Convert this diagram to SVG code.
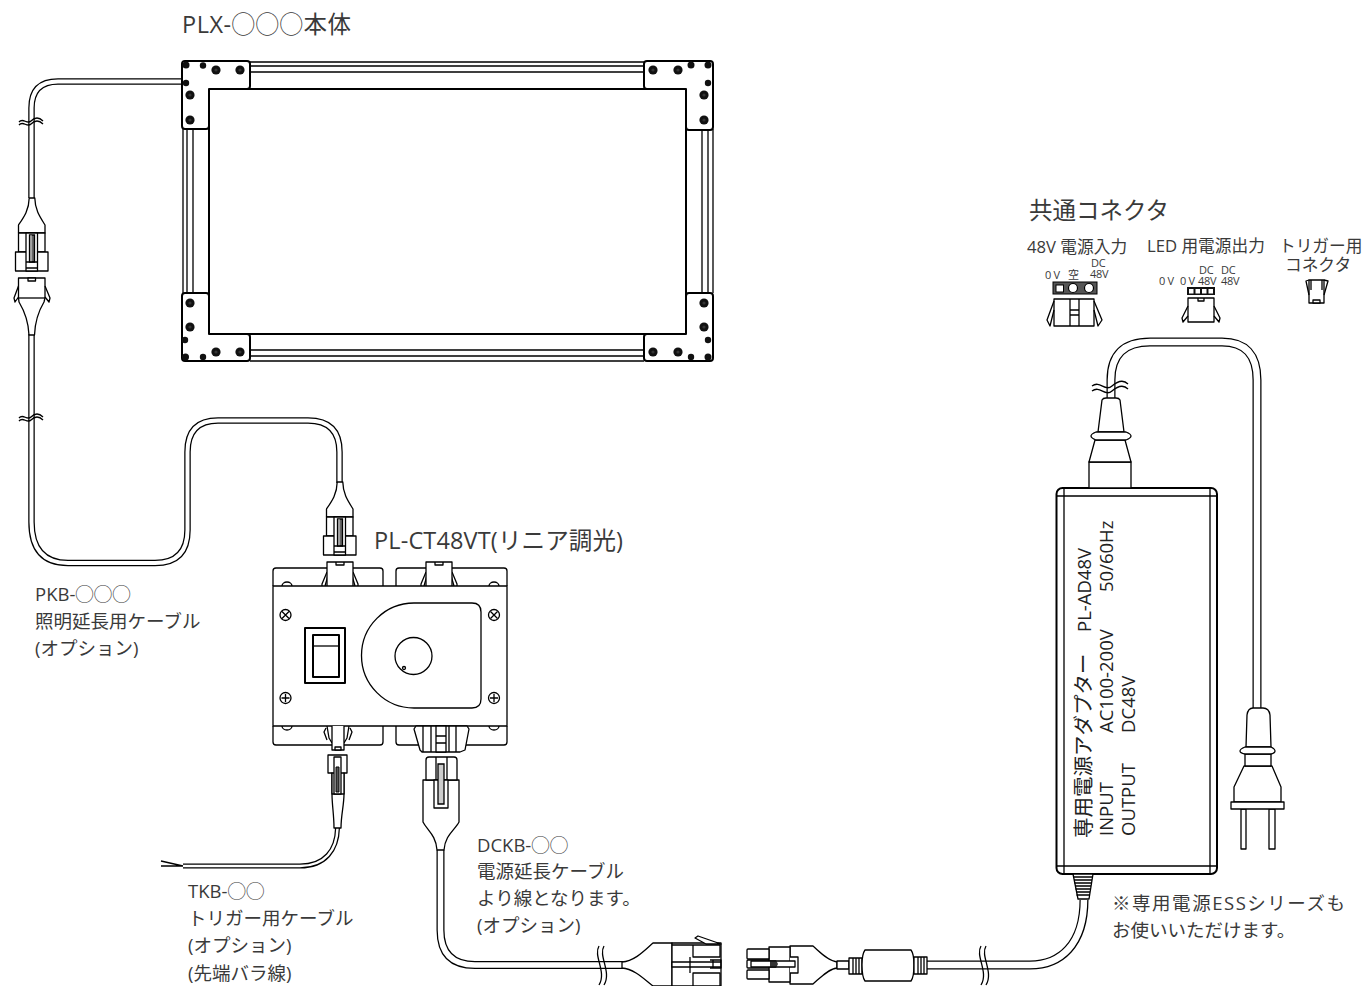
<svg xmlns="http://www.w3.org/2000/svg" xmlns:xlink="http://www.w3.org/1999/xlink" width="1367" height="986" viewBox="0 0 1367 986">
<style>
.l{fill:none;stroke:#000;stroke-width:1.3;stroke-linejoin:round}
.w{fill:#fff;stroke:#000;stroke-width:1.3;stroke-linejoin:round}
.b{fill:#fff;stroke:#000;stroke-width:2;stroke-linejoin:round}
.d{fill:#111;stroke:none}
.t{font-family:"Open Sans","Noto Sans CJK JP",sans-serif;fill:#3a3a3a;font-size:18.500px}
.big{font-size:23.500px}
.mid{font-size:16.700px}
.sm{font-size:11px;letter-spacing:-.3px}
.rot{font-family:"Open Sans","Noto Sans CJK JP",sans-serif;fill:#222;font-size:18.500px}
.rotj{font-size:20.500px}
.co{fill:none;stroke:#000;stroke-linejoin:round}
.ci{fill:none;stroke:#fff;stroke-linejoin:round}
</style>
<defs>
<g id="hole"><circle r="4.600" class="d"/><circle r="1.600" fill="#333"/></g>
<path id="brk" class="l" d="M-12 2C-8 -3 -4 5 0 1S8 -3 12 1M-12 5C-8 0 -4 8 0 4S8 0 12 4"/>
<g id="plug">
<path class="w" d="M-2.800 0H2.800C3 12 8 19 13 27V35H-13.500V27C-8 19 -3 12 -2.800 0Z"/>
<path class="w" d="M-13.500 35H13V54H-13.500Z"/>
<path class="w" d="M-16.500 54H16V73H-16.500Z"/>
<path class="w" d="M-6 35H5.500V73H-6Z"/>
<path d="M-2.500 37H2.500V64H-2.500Z" fill="#666" stroke="#000" stroke-width="1.300"/>
<path d="M-1 37V64" stroke="#fff" stroke-width=".8"/>
<path class="l" d="M-6 64H5.500M-6 70H5.500"/>
</g>
</defs>

<g id="connectors">
<g id="cable-panel-to-connector">
<path class="co" stroke-width="6.500" d="M182 81.500H58Q31.500 81.500 31.500 108V198"/>
<path class="ci" stroke-width="4" d="M183 81.500H58Q31.500 81.500 31.500 108V199"/>
<use xlink:href="#brk" href="#brk" x="31" y="120"/>
</g>
<g id="cable-pkb">
<path class="co" stroke-width="6.500" d="M31.500 334V522Q31.500 563 68 563H155Q187.500 563 187.500 530V452Q187.500 420.500 218 420.500H308Q339.500 420.500 339.500 452V483"/>
<path class="ci" stroke-width="4" d="M31.500 333V522Q31.500 563 68 563H155Q187.500 563 187.500 530V452Q187.500 420.500 218 420.500H308Q339.500 420.500 339.500 452V484"/>
<use xlink:href="#brk" href="#brk" x="31" y="416"/>
</g>
<g id="cable-tkb">
<path class="co" stroke-width="5" d="M337.500 828C337 850 325 866 300 866H183"/>
<path class="ci" stroke-width="2.500" d="M337.500 828C337 850 325 866 300 866H183"/>
<path class="l" d="M183 866L161 861M183 866H161" stroke-width="1.600"/>
</g>
<g id="cable-dckb">
<path class="co" stroke-width="8" d="M440.500 850V930Q440.500 965 475 965H623"/>
<path class="ci" stroke-width="5.500" d="M440.500 849V930Q440.500 965 475 965H624"/>
<path class="l" d="M599 946C593 956 607 972 599 985M604 946C598 956 612 972 604 985"/>
</g>
<g id="cable-adapter-out">
<path class="co" stroke-width="9" d="M927 965H1030C1060 965 1084 945 1084 900"/>
<path class="ci" stroke-width="6.500" d="M926 965H1030C1060 965 1084 945 1084 899"/>
<path class="l" d="M981 946C975 956 989 972 981 985M986 946C980 956 994 972 986 985"/>
</g>
<g id="cable-ac">
<path class="co" stroke-width="9" d="M1111 398V380Q1111 342 1150 342H1222Q1257 342 1257 380V708"/>
<path class="ci" stroke-width="6.500" d="M1111 399V380Q1111 342 1150 342H1222Q1257 342 1257 380V709"/>
<path class="l" d="M1092 386C1100 380 1105 392 1112 386S1124 380 1128 384M1092 391C1100 385 1105 397 1112 391S1124 385 1128 389"/>
</g>
</g>

<g id="panel">
<path class="b" d="M209 89H686V334H209Z"/>
<path class="l" d="M250 62H644M250 66H644M250 72H644M250 350H644M250 356H644M250 361H644M183 129V293M187 129V293M193 129V293M702 129V293M708 129V293M713 129V293"/>
<path class="b" d="M185 61H247Q250 61 250 64V86Q250 89 247 89H209V126Q209 129 206 129H185Q182 129 182 126V64Q182 61 185 61Z"/>
<path class="b" d="M647 61H710Q713 61 713 64V127Q713 130 710 130H689Q686 130 686 127V89H647Q644 89 644 86V64Q644 61 647 61Z"/>
<path class="b" d="M185 293H206Q209 293 209 296V334H247Q250 334 250 337V358Q250 361 247 361H185Q182 361 182 358V296Q182 293 185 293Z"/>
<path class="b" d="M689 293H710Q713 293 713 296V358Q713 361 710 361H647Q644 361 644 358V337Q644 334 647 334H686V296Q686 293 689 293Z"/>
<g class="d">
<circle cx="186" cy="65" r="3.500"/><circle cx="203" cy="65.500" r="3.200"/><circle cx="186" cy="83" r="3.200"/>
<circle cx="691" cy="65" r="3.500"/><circle cx="708" cy="65" r="3.500"/><circle cx="708" cy="83" r="3.200"/>
<circle cx="185" cy="340" r="3.200"/><circle cx="185.500" cy="357" r="3.500"/><circle cx="203" cy="357" r="3.200"/>
<circle cx="691" cy="357" r="3.200"/><circle cx="708" cy="357" r="3.500"/><circle cx="708" cy="340" r="3.200"/>
</g>
<use xlink:href="#hole" href="#hole" x="216" y="70"/><use xlink:href="#hole" href="#hole" x="240" y="70"/><use xlink:href="#hole" href="#hole" x="190" y="95"/><use xlink:href="#hole" href="#hole" x="190" y="120"/>
<use xlink:href="#hole" href="#hole" x="653" y="70"/><use xlink:href="#hole" href="#hole" x="678" y="70"/><use xlink:href="#hole" href="#hole" x="704" y="95"/><use xlink:href="#hole" href="#hole" x="704" y="120"/>
<use xlink:href="#hole" href="#hole" x="190" y="303"/><use xlink:href="#hole" href="#hole" x="190" y="327"/><use xlink:href="#hole" href="#hole" x="216" y="352"/><use xlink:href="#hole" href="#hole" x="240" y="352"/>
<use xlink:href="#hole" href="#hole" x="653" y="352"/><use xlink:href="#hole" href="#hole" x="678" y="352"/><use xlink:href="#hole" href="#hole" x="704" y="303"/><use xlink:href="#hole" href="#hole" x="704" y="327"/>
<text class="t big" x="182" y="33" textLength="169">PLX-◯◯◯本体</text>
</g>

<g id="inline-connector">
<use xlink:href="#plug" href="#plug" x="32" y="198"/>
<path class="w" d="M18.500 278H45V298L44 302C38 312 35 322 34.500 335H29C28.500 322 25 312 19 302L18.500 298Z"/>
<path class="l" d="M18.500 298H45"/>
<path class="w" d="M28 278H35.500V281H28Z"/>
<path class="l" d="M18.500 286L14 298L15 302L18.500 297M45 286L50 298L49 302L45 297"/>
</g>

<g id="controller">
<path class="l" d="M273 586V571Q273 568 276 568H380Q383 568 383 571V586" stroke-width="1.600"/>
<path class="l" d="M396 586V571Q396 568 399 568H504Q507 568 507 571V586" stroke-width="1.600"/>
<path class="l" d="M273 726V742Q273 745 276 745H380Q383 745 383 742V726" stroke-width="1.600"/>
<path class="l" d="M396 726V742Q396 745 399 745H504Q507 745 507 742V726" stroke-width="1.600"/>
<path class="l" d="M282 586A5 4 0 0 1 292 586M489 586A5 4 0 0 1 499 586M282 726A5 4 0 0 0 292 726M489 726A5 4 0 0 0 499 726"/>
<path class="l" d="M327 572L322 584L322 586M353 572L358 584L358 586M426 572L421 584L421 586M452 572L457 584L457 586M329 572L325 586M351 572L355 586M428 572L424 586M450 572L454 586"/>
<path class="w" d="M327 586V562H353V586"/>
<path class="w" d="M426 586V562H452V586"/>
<path class="l" d="M336 562V565H344V562M435 562V565H443V562"/>
<path class="w" d="M273 586H507V726H273Z" stroke-width="1.800"/>
<path class="b" d="M305 628H345V683H305Z" stroke-width="2.500"/>
<path class="b" d="M313 635H339V677H313Z"/>
<path class="l" d="M313 646H339"/>
<path class="l" d="M414 603H472Q481 603 481 612V699Q481 708 472 708H414A52.500 52.500 0 0 1 414 603Z" stroke-width="1.500"/>
<circle class="l" cx="413.500" cy="656" r="18.500" stroke-width="1.500"/>
<circle class="l" cx="404" cy="668" r="1.500"/>
<g class="l">
<circle cx="285.500" cy="615" r="5.500"/><path d="M282 611.500L289 618.500M289 611.500L282 618.500"/>
<circle cx="494" cy="615" r="5.500"/><path d="M490.500 611.500L497.500 618.500M497.500 611.500L490.500 618.500"/>
<circle cx="285.500" cy="698" r="5.500"/><path d="M281.500 698H289.500M285.500 694V702"/>
<circle cx="494" cy="698" r="5.500"/><path d="M490 698H498M494 694V702"/>
</g>
<path class="l" d="M327 726L329 738L332 743M349 726L347 738L344 743M326 728L324 732L327 740M350 728L352 732L349 740"/>
<path class="w" d="M332 726V750H344V726"/>
<path class="w" d="M335 747H341V750H335Z"/>
<path class="w" d="M414 729L420 750L422 752H460L465 750L469 729L467 726H416Z"/>
<path class="l" d="M423 726V752M431 726V752M449 726V752M456 726V752"/>
<path class="w" d="M436 726H446V752H436Z"/>
<path class="l" d="M436 736H446M436 743H446"/>
<use xlink:href="#plug" href="#plug" x="340" y="482"/>
<text class="t big" x="374" y="549" textLength="249">PL-CT48VT(リニア調光)</text>
</g>

<g id="trigger-connector">
<path class="w" d="M328 755H347V773H344V794C344 805 341 815 341 828H334C334 815 332 805 332 794V773H328Z"/>
<path class="w" d="M332 773H344V794H332Z"/>
<path class="w" d="M334 757H341V794H334Z"/>
<path d="M336 767H339V792H336Z" fill="#555" stroke="#000"/>
</g>

<g id="dckb-plug">
<path class="w" d="M423 780V822C427 830 436 835 437 850H444C445 835 455 830 459 822V780Z"/>
<path class="w" d="M426 760Q426 757 429 757H454Q457 757 457 760V780H426Z"/>
<path class="l" d="M436 757V780M447 757V780"/>
<path class="w" d="M434 780H448V808H434Z"/>
<path d="M438 764H444V804H438Z" fill="#ccc" stroke="#000" stroke-width="1.300"/>
</g>

<g id="dckb-end-left">
<path class="w" d="M622 962C635 961 645 950 653 943H672V986H653C645 980 635 969 622 968Z"/>
<path class="w" d="M672 943H721V986H672Z"/>
<path class="w" d="M693 945H720V957H693ZM672 945H693"/>
<path class="w" d="M693 973H720V986H693Z"/>
<path class="w" d="M672 962H690V967H672Z"/>
<path class="l" d="M690 957V962M690 967V973M690 962H721M690 967H721"/>
<path class="l" d="M710 960H713V968H710M713 960H721V968H713"/>
<path class="w" d="M695 938L698 936L721 944H706Z"/>
</g>

<g id="dc-end-right">
<path class="w" d="M790 946H813C820 952 828 961 837 962V968C828 969 820 978 813 984H790Z"/>
<path class="w" d="M769 947H790V982H769Z"/>
<path class="w" d="M748 949H769V959H748Q747 959 747 958V950Q747 949 748 949Z"/>
<path class="w" d="M748 960H769V968H748Q747 968 747 967V961Q747 960 748 960Z"/>
<path class="w" d="M748 970H769V979H748Q747 979 747 978V971Q747 970 748 970Z"/>
<path class="w" d="M790 957H798V973H790"/>
<path class="w" d="M751 961H795V967H751Z"/>
<path class="d" d="M770 960H776L778 964L776 968H770Z" opacity=".85"/>
<path class="w" d="M837 961H849V969H837Z"/>
</g>

<g id="ferrite">
<path class="w" d="M849 958H862V974H849Z"/>
<path class="l" d="M853 958V974M856 958V974M859 958V974"/>
<path class="w" d="M865 950H911Q914 954 914 965Q914 977 911 981H865Q862 977 862 965Q862 954 865 950Z"/>
<path class="w" d="M914 957H927V974H914Z"/>
<path class="l" d="M918 957V974M921 957V974M924 957V974"/>
</g>

<g id="adapter">
<rect class="b" x="1056.500" y="488" width="160.500" height="386" rx="6"/>
<path class="l" d="M1064 488V874M1210 488V874M1056.500 496H1217M1056.500 866H1217" stroke-width="1.500"/>
<path class="w" d="M1073 874H1093L1089 899H1078Z"/>
<path d="M1073.500 877H1092.500M1074 880H1092M1074.500 883H1091.500M1075 886H1091M1075.500 889H1090.500M1076 892H1090M1076.500 895H1089.500" stroke="#000" stroke-width="1.600"/>
<path class="w" d="M1089 462H1131V488H1089Z"/>
<path class="w" d="M1095 440L1089 462H1131L1125 440Z"/>
<path class="w" d="M1098 432L1102 400Q1103 398 1106 398H1116Q1119 398 1120 400L1124 432Z"/>
<path class="w" d="M1096 432H1126Q1131 434 1131 436Q1131 438 1126 440H1096Q1091 438 1091 436Q1091 434 1096 432Z"/>
<g transform="translate(1091,838) rotate(-90)"><text class="rot rotj" x="0" y="0">専用電源アダプター</text><text class="rot" x="206" y="0">PL-AD48V</text></g>
<g transform="translate(1113,836) rotate(-90)"><text class="rot" x="0" y="0">INPUT</text><text class="rot" x="103" y="0">AC100-200V</text><text class="rot" x="244" y="0">50/60Hz</text></g>
<g transform="translate(1135,836) rotate(-90)"><text class="rot" x="0" y="0">OUTPUT</text><text class="rot" x="103" y="0">DC48V</text></g>
</g>

<g id="ac-plug">
<path class="w" d="M1241 809H1246V849H1241ZM1269 809H1275V849H1269Z"/>
<path class="w" d="M1244 766L1234 787V802H1281V787L1272 766Z"/>
<path class="w" d="M1245 754V766H1271V754Z"/>
<path class="w" d="M1246 747L1247 715Q1248 708 1253 708H1263Q1269 708 1270 715L1271 747Z"/>
<path class="w" d="M1245 747H1271Q1275 749 1275 751Q1275 753 1271 754H1245Q1240 753 1240 751Q1240 749 1245 747Z"/>
<path class="w" d="M1231 802H1284V809H1231Z"/>
</g>

<g id="common-connector">
<text class="t big" x="1029" y="219">共通コネクタ</text>
<text class="t mid" x="1027" y="253">48V 電源入力</text>
<text class="t mid" x="1147" y="252">LED 用電源出力</text>
<text class="t mid" x="1279" y="252">トリガー用</text>
<text class="t mid" x="1285" y="271">コネクタ</text>
<g id="conn-48v-input">
<text class="t sm" x="1091" y="266.500">DC</text><text class="t sm" x="1045" y="279">0 V</text><text class="t sm" x="1068" y="279">空</text><text class="t sm" x="1090" y="278">48V</text>
<rect x="1053" y="282" width="44" height="12" fill="#555" stroke="#000"/>
<rect x="1056" y="285" width="7.500" height="7" fill="#fff" stroke="#000"/>
<circle cx="1073" cy="288" r="4.500" fill="#fff" stroke="#000" stroke-width="1.200"/>
<circle cx="1089" cy="288" r="4.500" fill="#fff" stroke="#000" stroke-width="1.200"/>
<path class="w" d="M1054 299H1094V326H1054Z" stroke-width="1.600"/>
<path class="l" d="M1070 299V326M1079 299V326M1070 310H1079M1070 315H1079" stroke-width="1.600"/>
<path class="l" d="M1054 301L1047 320L1050 326L1054 310M1094 301L1102 320L1098 326L1094 310" stroke-width="1.300"/>
</g>
<g id="conn-led-output">
<text class="t sm" x="1199" y="274">DC</text><text class="t sm" x="1221" y="274">DC</text>
<text class="t sm" x="1159" y="285">0 V</text><text class="t sm" x="1180" y="285">0 V</text><text class="t sm" x="1198" y="285">48V</text><text class="t sm" x="1221" y="285">48V</text>
<rect x="1187" y="287" width="28" height="8" fill="#111"/>
<rect x="1189" y="289" width="4.500" height="4.500" fill="#fff"/><rect x="1195.500" y="289" width="4.500" height="4.500" fill="#fff"/><rect x="1202" y="289" width="4.500" height="4.500" fill="#fff"/><rect x="1208.500" y="289" width="4.500" height="4.500" fill="#fff"/>
<path class="w" d="M1188 298H1214V322H1188Z"/>
<path class="l" d="M1198 298V301H1204V298"/>
<path class="l" d="M1188 306L1182 318L1183 322L1188 316M1214 306L1220 318L1219 322L1214 316"/>
</g>
<g id="conn-trigger">
<path class="w" d="M1309 280H1324V303H1309Z"/>
<path class="l" d="M1309 280L1306 281L1309 295M1311 280V290M1324 280L1328 281L1324 295M1322 280V290"/>
<path class="w" d="M1313 300H1320V303H1313Z"/>
</g>
</g>

<g id="labels">
<g class="t">
<text x="35" y="601">PKB-◯◯◯</text>
<text x="35" y="628">照明延長用ケーブル</text>
<text x="35" y="655">(オプション)</text>
<text x="188" y="898">TKB-◯◯</text>
<text x="188" y="925">トリガー用ケーブル</text>
<text x="188" y="952">(オプション)</text>
<text x="188" y="980">(先端バラ線)</text>
<text x="477" y="852">DCKB-◯◯</text>
<text x="477" y="878">電源延長ケーブル</text>
<text x="477" y="905">より線となります。</text>
<text x="477" y="932">(オプション)</text>
<text x="1112" y="910" textLength="233">※専用電源ESSシリーズも</text>
<text x="1112" y="937">お使いいただけます。</text>
</g>
</g>
</svg>
